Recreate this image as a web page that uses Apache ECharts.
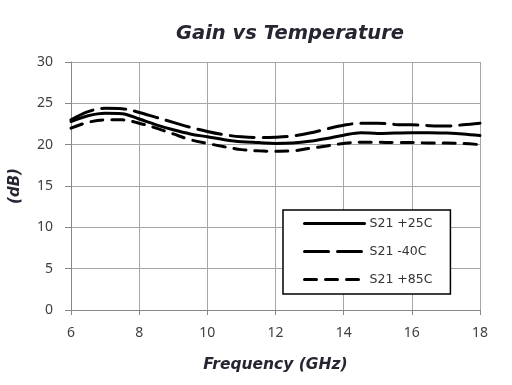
<!DOCTYPE html>
<html>
<head>
<meta charset="utf-8">
<script src="https://cdn.jsdelivr.net/npm/echarts@6/dist/echarts.min.js"></script>
<style>
html,body{margin:0;padding:0;background:#fff;}
#c{width:512px;height:385px;}
</style>
</head>
<body>
<div id="c"></div>
<script>
var freq = [6,6.5,7,7.5,8,8.5,9,9.5,10,10.5,11,11.5,12,12.5,13,13.5,14,14.5,15,15.5,16,16.5,17,17.5,18];
var s21_25C = [22.8,23.5,23.8,23.75,23.1,22.4,21.8,21.3,20.95,20.6,20.35,20.25,20.15,20.2,20.4,20.75,21.15,21.45,21.35,21.4,21.45,21.45,21.4,21.3,21.1];
var s21_m40C = [23.0,24.0,24.4,24.35,23.9,23.3,22.7,22.1,21.6,21.2,20.95,20.85,20.9,21.05,21.4,21.9,22.35,22.6,22.6,22.45,22.4,22.3,22.25,22.4,22.6];
var s21_85C = [22.0,22.7,23.0,23.0,22.6,22.0,21.3,20.6,20.15,19.75,19.4,19.25,19.2,19.25,19.55,19.85,20.15,20.3,20.3,20.25,20.25,20.2,20.2,20.15,20.0];
var seriesNames = ['S21 +25C','S21 -40C','S21 +85C'];
var xTicks = [6,8,10,12,14,16,18];
var yTicks = [0,5,10,15,20,25,30];

function pairs(v){ return freq.map(function(f,i){ return [f, v[i]]; }); }

var chart = echarts.init(document.getElementById('c'), null, {renderer:'canvas'});
var gridColor = '#a6a6a6';
var axisColor = '#868686';
var labelFont = 'Noto Sans';
var titleFont = 'DejaVu Sans';
var dashes = ['solid',[24,9],[12,9]];
var series = [s21_25C, s21_m40C, s21_85C].map(function(v, i){
  return {
    name: seriesNames[i], type:'line', data: pairs(v), smooth: 0.35,
    symbol:'none', showSymbol:false,
    lineStyle:{color:'#000', width:3, type:dashes[i], cap:'round'},
    itemStyle:{color:'#000'}
  };
});
chart.setOption({
  animation:false,
  title:{text:'Gain vs Temperature', left:285, top:19, textAlign:'center',
    textStyle:{fontFamily:titleFont, fontStyle:'italic', fontWeight:'bold', fontSize:19.5, color:'#262633'}},
  grid:{left:70, right:32, top:62, bottom:75},
  legend:{orient:'vertical', left:283, top:210, padding:[7,18,8,20], itemGap:15, itemWidth:60, itemHeight:14,
    borderColor:'#000', borderWidth:1.5, backgroundColor:'#fff',
    itemStyle:{opacity:0},
    lineStyle:{width:3, cap:'round'},
    textStyle:{fontFamily:titleFont, fontSize:12.5, color:'#333'},
    data: seriesNames},
  xAxis:{type:'value', min:xTicks[0], max:xTicks[xTicks.length-1], interval:2,
    name:'Frequency (GHz)', nameLocation:'middle', nameGap:47,
    nameTextStyle:{fontFamily:titleFont, fontStyle:'italic', fontWeight:'bold', fontSize:15.5, color:'#262633'},
    axisLine:{lineStyle:{color:axisColor, width:1}},
    axisTick:{show:true, inside:false, length:5, lineStyle:{color:axisColor}},
    axisLabel:{margin:16, fontFamily:labelFont, fontSize:14, color:'#404040'},
    splitLine:{show:true, lineStyle:{color:gridColor, width:1}}},
  yAxis:{type:'value', min:yTicks[0], max:yTicks[yTicks.length-1], interval:5,
    name:'(dB)', nameLocation:'middle', nameGap:48, nameRotate:90,
    nameTextStyle:{fontFamily:titleFont, fontStyle:'italic', fontWeight:'bold', fontSize:15, color:'#262633'},
    axisLine:{show:true, lineStyle:{color:axisColor, width:1}},
    axisTick:{show:true, inside:false, length:6, lineStyle:{color:axisColor}},
    axisLabel:{margin:18, fontFamily:labelFont, fontSize:14, color:'#404040'},
    splitLine:{show:true, lineStyle:{color:gridColor, width:1}}},
  series: series
});
</script>
</body>
</html>
